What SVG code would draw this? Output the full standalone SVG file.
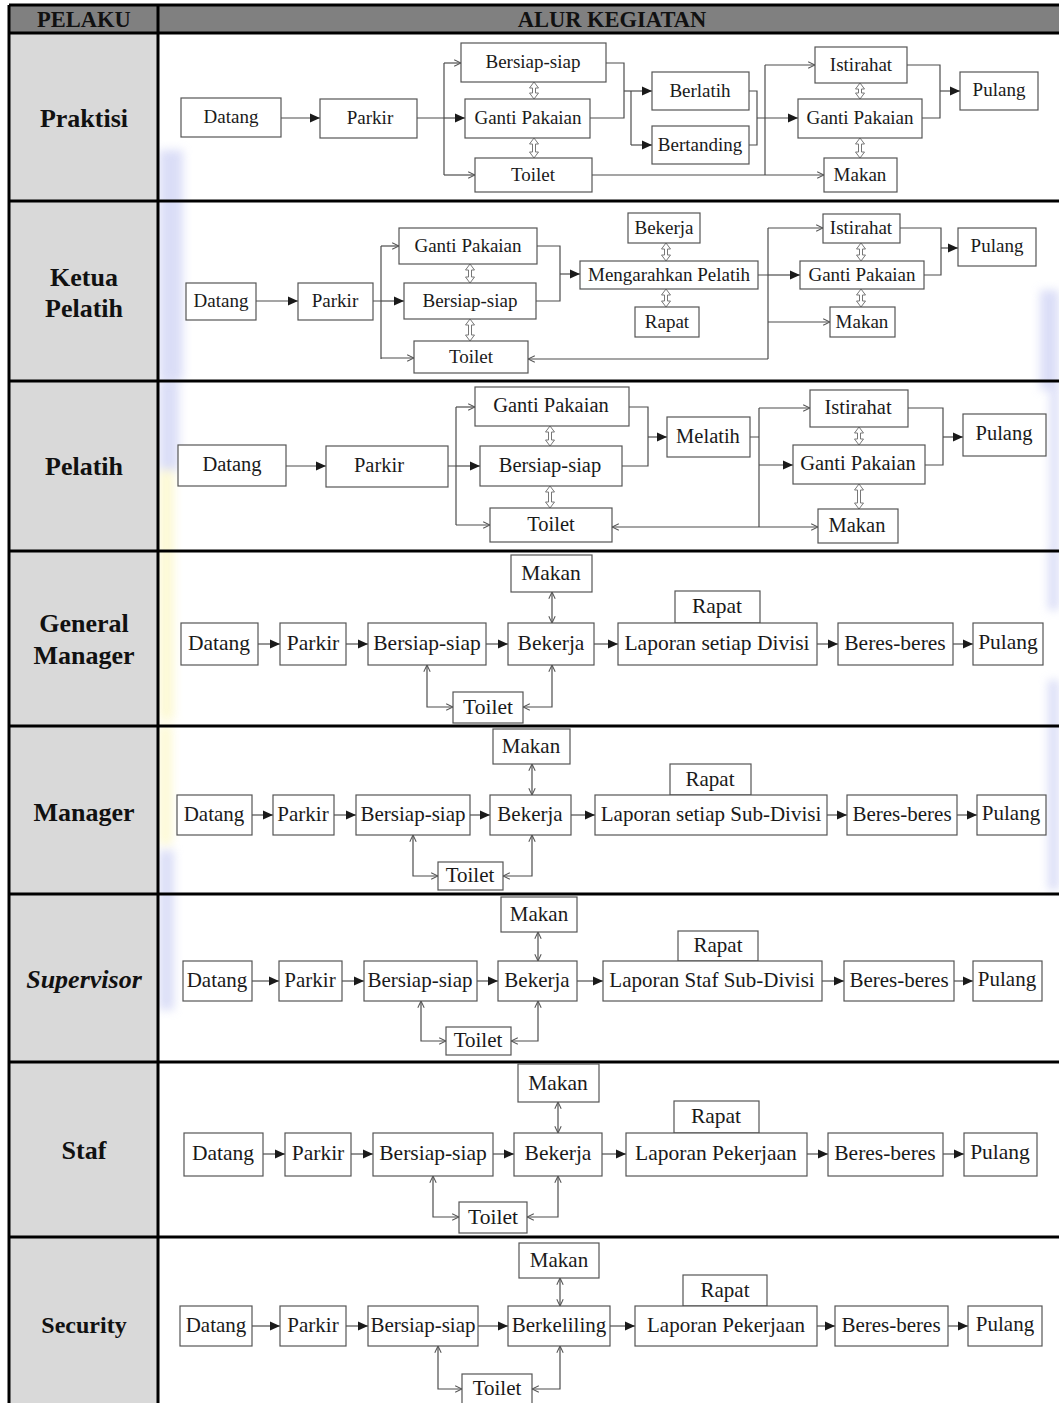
<svg xmlns="http://www.w3.org/2000/svg" width="1059" height="1403" viewBox="0 0 1059 1403">
<style>
  .box{fill:#fff;stroke:#555;stroke-width:1.2}
  .t{font-family:"Liberation Serif","Times New Roman",serif;fill:#1a1a1a;text-anchor:middle}
  .s19{font-size:19px}.s195{font-size:19.5px}.s205{font-size:20.5px}.s21{font-size:21px}.s215{font-size:21.5px}.s22{font-size:22px}
  .lbl{font-family:"Liberation Serif","Times New Roman",serif;font-weight:bold;fill:#111;text-anchor:middle;font-size:26px}
  .hd{font-family:"Liberation Serif","Times New Roman",serif;font-weight:bold;fill:#111;text-anchor:middle;font-size:22.5px}
  .ln{fill:none;stroke:#4d4d4d;stroke-width:1.2}
  .fa{marker-end:url(#fa)}
  .oa{marker-end:url(#oa)}
  .oa2{marker-start:url(#oa);marker-end:url(#oa)}
  .dbl{fill:#fff;stroke:#777;stroke-width:1}
  .grid{stroke:#000;stroke-width:3;fill:none}
</style>
<defs>
  <marker id="fa" viewBox="0 0 10 10" refX="10" refY="5" markerWidth="11" markerHeight="10" markerUnits="userSpaceOnUse" orient="auto">
    <path d="M0,0.5 L10,5 L0,9.5 Z" fill="#1a1a1a"/>
  </marker>
  <marker id="oa" viewBox="0 0 10 10" refX="9.5" refY="5" markerWidth="8" markerHeight="8" markerUnits="userSpaceOnUse" orient="auto-start-reverse">
    <path d="M1,1 L9.5,5 L1,9" fill="none" stroke="#555" stroke-width="1.3"/>
  </marker>
  <filter id="soft" x="-50%" y="-50%" width="200%" height="200%">
    <feGaussianBlur stdDeviation="5"/>
  </filter>
</defs>

<rect width="1059" height="1403" fill="#fff"/>

<!-- faint background tint -->
<g id="tint" filter="url(#soft)" opacity="0.6">
  <rect x="159" y="150" width="24" height="230" fill="#c3c8f2"/>
  <rect x="159" y="381" width="20" height="90" fill="#c3c8f2"/>
  <rect x="159" y="470" width="15" height="250" fill="#fbf5b8"/>
  <rect x="159" y="725" width="13" height="120" fill="#fbf5b8"/>
  <rect x="159" y="850" width="15" height="160" fill="#c3c8f2"/>
  <rect x="1040" y="290" width="19" height="100" fill="#c3c8f2"/>
  <rect x="1050" y="380" width="9" height="170" fill="#c3c8f2"/>
  <rect x="1048" y="550" width="11" height="60" fill="#c3c8f2"/>
  <rect x="1048" y="680" width="11" height="210" fill="#c3c8f2"/>
</g>

<!-- table -->
<g id="table">
  <rect x="9" y="5" width="1050" height="28" fill="#808080"/>
  <rect x="9" y="33" width="149" height="1370" fill="#d9d9d9"/>
  <path class="grid" d="M9,5 H1059 M9,5 V1403 M158,5 V1403 M9,33 H1059 M9,201 H1059 M9,381 H1059 M9,551 H1059 M9,726 H1059 M9,894 H1059 M9,1062 H1059 M9,1237 H1059"/>
  <text class="hd" x="84" y="27">PELAKU</text>
  <text class="hd" x="612" y="27">ALUR KEGIATAN</text>
  <text class="lbl" x="84" y="127">Praktisi</text>
  <text class="lbl" x="84" y="286">Ketua</text>
  <text class="lbl" x="84" y="317">Pelatih</text>
  <text class="lbl" x="84" y="475">Pelatih</text>
  <text class="lbl" x="84" y="632">General</text>
  <text class="lbl" x="84" y="664">Manager</text>
  <text class="lbl" x="84" y="821">Manager</text>
  <text class="lbl" x="84" y="988" font-style="italic">Supervisor</text>
  <text class="lbl" x="84" y="1159">Staf</text>
  <text class="lbl" x="84" y="1333" style="font-size:24px">Security</text>
</g>

<!-- connectors -->
<g id="connectors">
  <!-- Praktisi -->
  <g id="c-praktisi">
    <path class="ln fa" d="M281,118 H320"/>
    <path class="ln" d="M417,118 H444 M444,63 V175"/>
    <path class="ln oa" d="M444,63 H461"/>
    <path class="ln fa" d="M444,118 H465"/>
    <path class="ln oa" d="M444,175 H475"/>
    <path class="ln" d="M606,63 H624 V118 H590"/>
    <path class="ln fa" d="M624,91 H652"/>
    <path class="ln" d="M631,91 V145"/>
    <path class="ln fa" d="M631,145 H652"/>
    <path class="ln" d="M749,91 H757 V145 H749"/>
    <path class="ln fa" d="M757,118 H798"/>
    <path class="ln" d="M765,65 V175"/>
    <path class="ln oa" d="M765,65 H815"/>
    <path class="ln oa" d="M592,175 H824"/>
    <path class="ln" d="M907,65 H940 V118 H922"/>
    <path class="ln fa" d="M940,91 H960"/>
    <path class="dbl" d="M534,82 l4.5,6 h-3 V93 h3 L534,99 l-4.5,-6 h3 V88 h-3 Z"/>
    <path class="dbl" d="M534,138 l4.5,6 h-3 V152 h3 L534,158 l-4.5,-6 h3 V144 h-3 Z"/>
    <path class="dbl" d="M860,83 l4.5,6 h-3 V93 h3 L860,99 l-4.5,-6 h3 V89 h-3 Z"/>
    <path class="dbl" d="M860,138 l4.5,6 h-3 V152 h3 L860,158 l-4.5,-6 h3 V144 h-3 Z"/>
  </g>
  <!-- Ketua Pelatih -->
  <g id="c-ketua">
    <path class="ln fa" d="M256,301 H298"/>
    <path class="ln" d="M373,301 H381 M381,246 V359"/>
    <path class="ln oa" d="M381,246 H399"/>
    <path class="ln fa" d="M381,301 H404"/>
    <path class="ln oa" d="M381,358 H414"/>
    <path class="ln" d="M537,246 H560 V301 H536"/>
    <path class="ln fa" d="M560,274 H580"/>
    <path class="ln" d="M758,275 H768 M768,228 V359"/>
    <path class="ln oa" d="M768,228 H823"/>
    <path class="ln fa" d="M768,275 H800"/>
    <path class="ln oa" d="M768,322 H830"/>
    <path class="ln oa" d="M768,359 H528"/>
    <path class="ln" d="M900,228 H941 V275 H924"/>
    <path class="ln fa" d="M941,248 H958"/>
    <path class="dbl" d="M470,264 l4.5,6 h-3 V277 h3 L470,283 l-4.5,-6 h3 V270 h-3 Z"/>
    <path class="dbl" d="M470,319 l4.5,6 h-3 V335 h3 L470,341 l-4.5,-6 h3 V325 h-3 Z"/>
    <path class="dbl" d="M666,243 l4.5,6 h-3 V255 h3 L666,261 l-4.5,-6 h3 V249 h-3 Z"/>
    <path class="dbl" d="M666,289 l4.5,6 h-3 V301 h3 L666,307 l-4.5,-6 h3 V295 h-3 Z"/>
    <path class="dbl" d="M861,243 l4.5,6 h-3 V255 h3 L861,261 l-4.5,-6 h3 V249 h-3 Z"/>
    <path class="dbl" d="M861,289 l4.5,6 h-3 V301 h3 L861,307 l-4.5,-6 h3 V295 h-3 Z"/>
  </g>
  <!-- Pelatih -->
  <g id="c-pelatih">
    <path class="ln fa" d="M286,466 H326"/>
    <path class="ln" d="M448,466 H456 M456,407 V525"/>
    <path class="ln oa" d="M456,407 H475"/>
    <path class="ln fa" d="M456,466 H480"/>
    <path class="ln oa" d="M456,525 H490"/>
    <path class="ln" d="M629,407 H648 V466 H622"/>
    <path class="ln fa" d="M648,437 H667"/>
    <path class="ln" d="M750,437 H759 M759,408 V527"/>
    <path class="ln oa" d="M759,408 H810"/>
    <path class="ln fa" d="M759,465 H793"/>
    <path class="ln oa" d="M759,527 H818"/>
    <path class="ln oa" d="M759,527 H612"/>
    <path class="ln" d="M908,408 H943 V465 H925"/>
    <path class="ln fa" d="M943,437 H963"/>
    <path class="dbl" d="M550,426 l4.5,6 h-3 V440 h3 L550,446 l-4.5,-6 h3 V432 h-3 Z"/>
    <path class="dbl" d="M550,486 l4.5,6 h-3 V502 h3 L550,508 l-4.5,-6 h3 V492 h-3 Z"/>
    <path class="dbl" d="M859,427 l4.5,6 h-3 V439 h3 L859,445 l-4.5,-6 h3 V433 h-3 Z"/>
    <path class="dbl" d="M859,484 l4.5,6 h-3 V503 h3 L859,509 l-4.5,-6 h3 V490 h-3 Z"/>
  </g>
  <!-- General Manager -->
  <g id="c-gm">
    <path class="ln fa" d="M258,644 H280"/>
    <path class="ln fa" d="M346,644 H368"/>
    <path class="ln fa" d="M486,644 H508"/>
    <path class="ln fa" d="M594,644 H618"/>
    <path class="ln fa" d="M817,644 H838"/>
    <path class="ln fa" d="M953,644 H973"/>
    <path class="ln oa2" d="M552,592 V623"/>
    <path class="ln oa2" d="M427,665 V707 H453"/>
    <path class="ln oa2" d="M552,665 V707 H523"/>
  </g>
  <!-- Manager -->
  <g id="c-manager">
    <path class="ln fa" d="M252,815 H273"/>
    <path class="ln fa" d="M334,815 H356"/>
    <path class="ln fa" d="M470,815 H490"/>
    <path class="ln fa" d="M571,815 H595"/>
    <path class="ln fa" d="M827,815 H847"/>
    <path class="ln fa" d="M957,815 H977"/>
    <path class="ln oa2" d="M532,764 V795"/>
    <path class="ln oa2" d="M413,835 V876 H438"/>
    <path class="ln oa2" d="M532,835 V876 H503"/>
  </g>
  <!-- Supervisor -->
  <g id="c-supervisor">
    <path class="ln fa" d="M252,981 H279"/>
    <path class="ln fa" d="M342,981 H364"/>
    <path class="ln fa" d="M477,981 H498"/>
    <path class="ln fa" d="M577,981 H603"/>
    <path class="ln fa" d="M822,981 H844"/>
    <path class="ln fa" d="M954,981 H973"/>
    <path class="ln oa2" d="M538,932 V961"/>
    <path class="ln oa2" d="M421,1001 V1041 H446"/>
    <path class="ln oa2" d="M538,1001 V1041 H511"/>
  </g>
  <!-- Staf -->
  <g id="c-staf">
    <path class="ln fa" d="M263,1154 H285"/>
    <path class="ln fa" d="M351,1154 H373"/>
    <path class="ln fa" d="M493,1154 H514"/>
    <path class="ln fa" d="M602,1154 H626"/>
    <path class="ln fa" d="M807,1154 H828"/>
    <path class="ln fa" d="M943,1154 H964"/>
    <path class="ln oa2" d="M558,1102 V1133"/>
    <path class="ln oa2" d="M433,1176 V1217 H459"/>
    <path class="ln oa2" d="M558,1176 V1217 H527"/>
  </g>
  <!-- Security -->
  <g id="c-security">
    <path class="ln fa" d="M252,1326 H280"/>
    <path class="ln fa" d="M346,1326 H368"/>
    <path class="ln fa" d="M478,1326 H508"/>
    <path class="ln fa" d="M610,1326 H635"/>
    <path class="ln fa" d="M817,1326 H835"/>
    <path class="ln fa" d="M948,1326 H968"/>
    <path class="ln oa2" d="M560,1278 V1306"/>
    <path class="ln oa2" d="M438,1346 V1389 H462"/>
    <path class="ln oa2" d="M560,1346 V1389 H532"/>
  </g>
</g>

<!-- Praktisi -->
<g id="praktisi-nodes" class="t s19">
  <g id="p-datang"><rect class="box" x="181" y="98" width="100" height="39"/><text x="231" y="123">Datang</text></g>
  <g id="p-parkir"><rect class="box" x="320" y="99" width="97" height="39"/><text x="370" y="124">Parkir</text></g>
  <g id="p-bersiap"><rect class="box" x="461" y="43" width="145" height="39"/><text x="533" y="68">Bersiap-siap</text></g>
  <g id="p-ganti"><rect class="box" x="465" y="99" width="125" height="39"/><text x="528" y="124">Ganti Pakaian</text></g>
  <g id="p-toilet"><rect class="box" x="475" y="158" width="117" height="34"/><text x="533" y="181">Toilet</text></g>
  <g id="p-berlatih"><rect class="box" x="652" y="72" width="97" height="38"/><text x="700" y="97">Berlatih</text></g>
  <g id="p-bertanding"><rect class="box" x="652" y="126" width="97" height="38"/><text x="700" y="151">Bertanding</text></g>
  <g id="p-istirahat"><rect class="box" x="815" y="47" width="92" height="36"/><text x="861" y="71">Istirahat</text></g>
  <g id="p-ganti2"><rect class="box" x="798" y="99" width="124" height="39"/><text x="860" y="124">Ganti Pakaian</text></g>
  <g id="p-makan"><rect class="box" x="824" y="158" width="73" height="34"/><text x="860" y="181">Makan</text></g>
  <g id="p-pulang"><rect class="box" x="960" y="72" width="78" height="38"/><text x="999" y="96">Pulang</text></g>
</g>

<!-- Ketua Pelatih -->
<g id="ketua-nodes" class="t s19">
  <g id="k-datang"><rect class="box" x="186" y="283" width="70" height="37"/><text x="221" y="307">Datang</text></g>
  <g id="k-parkir"><rect class="box" x="298" y="283" width="75" height="37"/><text x="335" y="307">Parkir</text></g>
  <g id="k-ganti"><rect class="box" x="399" y="228" width="138" height="36"/><text x="468" y="252">Ganti Pakaian</text></g>
  <g id="k-bersiap"><rect class="box" x="404" y="283" width="132" height="36"/><text x="470" y="307">Bersiap-siap</text></g>
  <g id="k-toilet"><rect class="box" x="414" y="341" width="114" height="32"/><text x="471" y="363">Toilet</text></g>
  <g id="k-bekerja"><rect class="box" x="628" y="213" width="72" height="30"/><text x="664" y="234">Bekerja</text></g>
  <g id="k-mengarahkan"><rect class="box" x="580" y="261" width="178" height="28"/><text x="669" y="281">Mengarahkan Pelatih</text></g>
  <g id="k-rapat"><rect class="box" x="635" y="307" width="64" height="30"/><text x="667" y="328">Rapat</text></g>
  <g id="k-istirahat"><rect class="box" x="823" y="214" width="77" height="29"/><text x="861" y="234">Istirahat</text></g>
  <g id="k-ganti2"><rect class="box" x="800" y="261" width="124" height="28"/><text x="862" y="281">Ganti Pakaian</text></g>
  <g id="k-makan"><rect class="box" x="830" y="307" width="65" height="30"/><text x="862" y="328">Makan</text></g>
  <g id="k-pulang"><rect class="box" x="958" y="228" width="78" height="38"/><text x="997" y="252">Pulang</text></g>
</g>

<!-- Pelatih -->
<g id="pelatih-nodes" class="t s205">
  <g id="l-datang"><rect class="box" x="178" y="445" width="108" height="41"/><text x="232" y="471">Datang</text></g>
  <g id="l-parkir"><rect class="box" x="326" y="446" width="122" height="41"/><text x="379" y="472">Parkir</text></g>
  <g id="l-ganti"><rect class="box" x="475" y="387" width="154" height="39"/><text x="551" y="412">Ganti Pakaian</text></g>
  <g id="l-bersiap"><rect class="box" x="480" y="446" width="142" height="40"/><text x="550" y="472">Bersiap-siap</text></g>
  <g id="l-toilet"><rect class="box" x="490" y="508" width="122" height="34"/><text x="551" y="531">Toilet</text></g>
  <g id="l-melatih"><rect class="box" x="667" y="417" width="83" height="40"/><text x="708" y="443">Melatih</text></g>
  <g id="l-istirahat"><rect class="box" x="810" y="390" width="98" height="37"/><text x="858" y="414">Istirahat</text></g>
  <g id="l-ganti2"><rect class="box" x="793" y="445" width="132" height="39"/><text x="858" y="470">Ganti Pakaian</text></g>
  <g id="l-makan"><rect class="box" x="818" y="509" width="80" height="34"/><text x="857" y="532">Makan</text></g>
  <g id="l-pulang"><rect class="box" x="963" y="414" width="83" height="42"/><text x="1004" y="440">Pulang</text></g>
</g>

<!-- General Manager -->
<g id="gm-nodes" class="t s215">
  <g id="g-datang"><rect class="box" x="181" y="623" width="77" height="42"/><text x="219" y="650">Datang</text></g>
  <g id="g-parkir"><rect class="box" x="280" y="623" width="66" height="42"/><text x="313" y="650">Parkir</text></g>
  <g id="g-bersiap"><rect class="box" x="368" y="623" width="118" height="42"/><text x="427" y="650">Bersiap-siap</text></g>
  <g id="g-bekerja"><rect class="box" x="508" y="623" width="86" height="42"/><text x="551" y="650">Bekerja</text></g>
  <g id="g-makan"><rect class="box" x="511" y="555" width="81" height="37"/><text x="551" y="580">Makan</text></g>
  <g id="g-toilet"><rect class="box" x="453" y="692" width="70" height="31"/><text x="488" y="714">Toilet</text></g>
  <g id="g-rapat"><rect class="box" x="675" y="591" width="85" height="32"/><text x="717" y="613">Rapat</text></g>
  <g id="g-laporan"><rect class="box" x="618" y="623" width="199" height="42"/><text x="717" y="650">Laporan setiap Divisi</text></g>
  <g id="g-beres"><rect class="box" x="838" y="623" width="115" height="42"/><text x="895" y="650">Beres-beres</text></g>
  <g id="g-pulang"><rect class="box" x="973" y="623" width="70" height="42"/><text x="1008" y="649">Pulang</text></g>
</g>

<!-- Manager -->
<g id="manager-nodes" class="t s21">
  <g id="m-datang"><rect class="box" x="177" y="795" width="75" height="40"/><text x="214" y="821">Datang</text></g>
  <g id="m-parkir"><rect class="box" x="273" y="795" width="61" height="40"/><text x="303" y="821">Parkir</text></g>
  <g id="m-bersiap"><rect class="box" x="356" y="795" width="114" height="40"/><text x="413" y="821">Bersiap-siap</text></g>
  <g id="m-bekerja"><rect class="box" x="490" y="795" width="81" height="40"/><text x="530" y="821">Bekerja</text></g>
  <g id="m-makan"><rect class="box" x="493" y="729" width="77" height="35"/><text x="531" y="753">Makan</text></g>
  <g id="m-toilet"><rect class="box" x="438" y="862" width="65" height="28"/><text x="470" y="882">Toilet</text></g>
  <g id="m-rapat"><rect class="box" x="670" y="764" width="81" height="31"/><text x="710" y="786">Rapat</text></g>
  <g id="m-laporan"><rect class="box" x="595" y="795" width="232" height="40"/><text x="711" y="821">Laporan setiap Sub-Divisi</text></g>
  <g id="m-beres"><rect class="box" x="847" y="795" width="110" height="40"/><text x="902" y="821">Beres-beres</text></g>
  <g id="m-pulang"><rect class="box" x="977" y="795" width="69" height="40"/><text x="1011" y="820">Pulang</text></g>
</g>

<!-- Supervisor -->
<g id="supervisor-nodes" class="t s21">
  <g id="v-datang"><rect class="box" x="183" y="961" width="69" height="40"/><text x="217" y="987">Datang</text></g>
  <g id="v-parkir"><rect class="box" x="279" y="961" width="63" height="40"/><text x="310" y="987">Parkir</text></g>
  <g id="v-bersiap"><rect class="box" x="364" y="961" width="113" height="40"/><text x="420" y="987">Bersiap-siap</text></g>
  <g id="v-bekerja"><rect class="box" x="498" y="961" width="79" height="40"/><text x="537" y="987">Bekerja</text></g>
  <g id="v-makan"><rect class="box" x="501" y="897" width="76" height="35"/><text x="539" y="921">Makan</text></g>
  <g id="v-toilet"><rect class="box" x="446" y="1027" width="65" height="28"/><text x="478" y="1047">Toilet</text></g>
  <g id="v-rapat"><rect class="box" x="678" y="931" width="80" height="30"/><text x="718" y="952">Rapat</text></g>
  <g id="v-laporan"><rect class="box" x="603" y="961" width="219" height="40"/><text x="712" y="987">Laporan Staf Sub-Divisi</text></g>
  <g id="v-beres"><rect class="box" x="844" y="961" width="110" height="40"/><text x="899" y="987">Beres-beres</text></g>
  <g id="v-pulang"><rect class="box" x="973" y="961" width="69" height="40"/><text x="1007" y="986">Pulang</text></g>
</g>

<!-- Staf -->
<g id="staf-nodes" class="t s215">
  <g id="s-datang"><rect class="box" x="184" y="1133" width="79" height="43"/><text x="223" y="1160">Datang</text></g>
  <g id="s-parkir"><rect class="box" x="285" y="1133" width="66" height="43"/><text x="318" y="1160">Parkir</text></g>
  <g id="s-bersiap"><rect class="box" x="373" y="1133" width="120" height="43"/><text x="433" y="1160">Bersiap-siap</text></g>
  <g id="s-bekerja"><rect class="box" x="514" y="1133" width="88" height="43"/><text x="558" y="1160">Bekerja</text></g>
  <g id="s-makan"><rect class="box" x="518" y="1064" width="81" height="38"/><text x="558" y="1090">Makan</text></g>
  <g id="s-toilet"><rect class="box" x="459" y="1202" width="68" height="31"/><text x="493" y="1224">Toilet</text></g>
  <g id="s-rapat"><rect class="box" x="674" y="1101" width="85" height="32"/><text x="716" y="1123">Rapat</text></g>
  <g id="s-laporan"><rect class="box" x="626" y="1133" width="181" height="43"/><text x="716" y="1160">Laporan Pekerjaan</text></g>
  <g id="s-beres"><rect class="box" x="828" y="1133" width="115" height="43"/><text x="885" y="1160">Beres-beres</text></g>
  <g id="s-pulang"><rect class="box" x="964" y="1133" width="73" height="43"/><text x="1000" y="1159">Pulang</text></g>
</g>

<!-- Security -->
<g id="security-nodes" class="t s21">
  <g id="x-datang"><rect class="box" x="180" y="1306" width="72" height="40"/><text x="216" y="1332">Datang</text></g>
  <g id="x-parkir"><rect class="box" x="280" y="1306" width="66" height="40"/><text x="313" y="1332">Parkir</text></g>
  <g id="x-bersiap"><rect class="box" x="368" y="1306" width="110" height="40"/><text x="423" y="1332">Bersiap-siap</text></g>
  <g id="x-berkeliling"><rect class="box" x="508" y="1306" width="102" height="40"/><text x="559" y="1332">Berkeliling</text></g>
  <g id="x-makan"><rect class="box" x="519" y="1243" width="80" height="35"/><text x="559" y="1267">Makan</text></g>
  <g id="x-toilet"><rect class="box" x="462" y="1374" width="70" height="40"/><text x="497" y="1395">Toilet</text></g>
  <g id="x-rapat"><rect class="box" x="683" y="1275" width="84" height="31"/><text x="725" y="1297">Rapat</text></g>
  <g id="x-laporan"><rect class="box" x="635" y="1306" width="182" height="40"/><text x="726" y="1332">Laporan Pekerjaan</text></g>
  <g id="x-beres"><rect class="box" x="835" y="1306" width="113" height="40"/><text x="891" y="1332">Beres-beres</text></g>
  <g id="x-pulang"><rect class="box" x="968" y="1306" width="74" height="40"/><text x="1005" y="1331">Pulang</text></g>
</g>
</svg>
